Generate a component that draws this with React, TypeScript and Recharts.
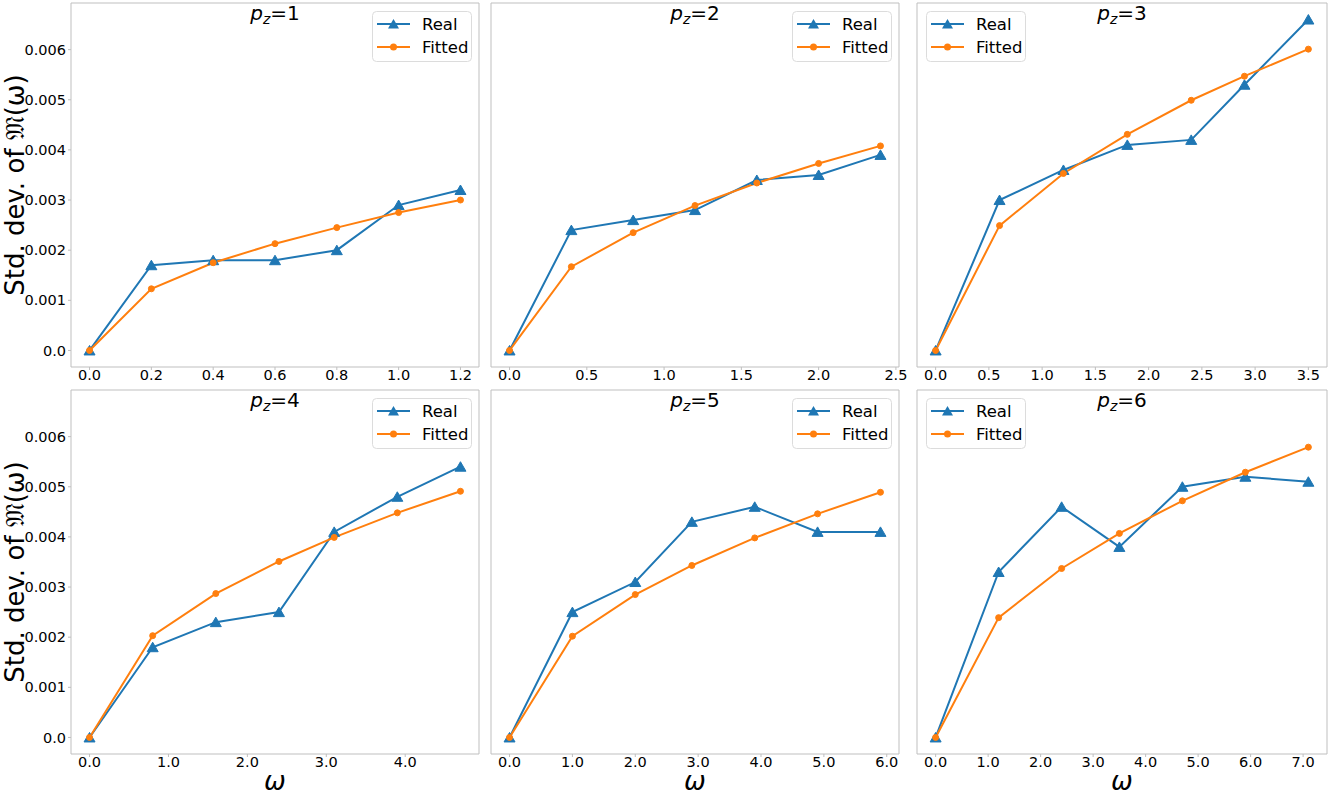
import React from 'react';
import { LineChart, Line, XAxis, YAxis, ReferenceArea, Legend } from 'recharts';

// omega values, real and fitted std. dev. for each p_z panel
const omega1 = [0, 0.2, 0.4, 0.6, 0.8, 1.0, 1.2];
const real1 = [0, 0.0017, 0.0018, 0.0018, 0.002, 0.0029, 0.0032];
const fitted1 = [0, 0.00123, 0.00175, 0.00213, 0.00245, 0.00275, 0.003];
const xTicks1 = [0, 0.2, 0.4, 0.6, 0.8, 1.0, 1.2];

const omega2 = [0, 0.4, 0.8, 1.2, 1.6, 2.0, 2.4];
const real2 = [0, 0.0024, 0.0026, 0.0028, 0.0034, 0.0035, 0.0039];
const fitted2 = [0, 0.00167, 0.00235, 0.00289, 0.00334, 0.00373, 0.00408];
const xTicks2 = [0, 0.5, 1.0, 1.5, 2.0, 2.5];

const omega3 = [0, 0.6, 1.2, 1.8, 2.4, 2.9, 3.5];
const real3 = [0, 0.003, 0.0036, 0.0041, 0.0042, 0.0053, 0.0066];
const fitted3 = [0, 0.00249, 0.00353, 0.00431, 0.00499, 0.00547, 0.00601];
const xTicks3 = [0, 0.5, 1.0, 1.5, 2.0, 2.5, 3.0, 3.5];

const omega4 = [0, 0.8, 1.6, 2.4, 3.1, 3.9, 4.7];
const real4 = [0, 0.0018, 0.0023, 0.0025, 0.0041, 0.0048, 0.0054];
const fitted4 = [0, 0.00203, 0.00287, 0.00351, 0.00399, 0.00448, 0.00491];
const xTicks4 = [0, 1, 2, 3, 4];

const omega5 = [0, 1.0, 2.0, 2.9, 3.9, 4.9, 5.9];
const real5 = [0, 0.0025, 0.0031, 0.0043, 0.0046, 0.0041, 0.0041];
const fitted5 = [0, 0.00202, 0.00285, 0.00343, 0.00398, 0.00446, 0.00489];
const xTicks5 = [0, 1, 2, 3, 4, 5, 6];

const omega6 = [0, 1.2, 2.4, 3.5, 4.7, 5.9, 7.1];
const real6 = [0, 0.0033, 0.0046, 0.0038, 0.005, 0.0052, 0.0051];
const fitted6 = [0, 0.00239, 0.00337, 0.00407, 0.00472, 0.00529, 0.00579];
const xTicks6 = [0, 1, 2, 3, 4, 5, 6, 7];

const yTicks = [0, 0.001, 0.002, 0.003, 0.004, 0.005, 0.006];
const yMax = 0.0066;

const seriesNames = ['Real', 'Fitted'];

const panels = [
  { pz: 1, omega: omega1, real: real1, fitted: fitted1, ticks: xTicks1 },
  { pz: 2, omega: omega2, real: real2, fitted: fitted2, ticks: xTicks2 },
  { pz: 3, omega: omega3, real: real3, fitted: fitted3, ticks: xTicks3 },
  { pz: 4, omega: omega4, real: real4, fitted: fitted4, ticks: xTicks4 },
  { pz: 5, omega: omega5, real: real5, fitted: fitted5, ticks: xTicks5 },
  { pz: 6, omega: omega6, real: real6, fitted: fitted6, ticks: xTicks6 },
];

const BLUE = '#1f77b4';
const ORANGE = '#ff7f0e';
const SPINE = '#bfbfbf';
const FONT = "'DejaVu Sans', sans-serif";
const TICK_FS = 14.5;

// layout of the 2x3 grid
const cols = [
  { plotLeft: 71, plotW: 408, yw: 71, mr: 8, legendRight: true },
  { plotLeft: 491, plotW: 408, yw: 10, mr: 8, legendRight: true },
  { plotLeft: 917, plotW: 410, yw: 10, mr: 2, legendRight: false },
];
const rows = [
  { plotTop: 3, xh: 20, showX: false },
  { plotTop: 390, xh: 43, showX: true },
];
const PLOT_H = 364;

// matplotlib style 5% margins
const padDomain = (lo: number, hi: number): [number, number] => {
  const m = (hi - lo) * 0.05;
  return [lo - m, hi + m];
};
const yDomain = padDomain(0, yMax);

const renderTriangle = (p: any) => {
  const { cx, cy, index } = p;
  if (cx == null || cy == null) return <g key={`tri-${index}`} />;
  return (
    <path
      key={`tri-${index}`}
      d={`M${cx},${cy - 5}L${cx + 5.5},${cy + 4.5}L${cx - 5.5},${cy + 4.5}Z`}
      fill={BLUE}
      stroke={BLUE}
      strokeWidth={1}
    />
  );
};

const LegendBox = () => (
  <svg width={100} height={51} style={{ display: 'block' }}>
    <rect x={0.5} y={0.5} width={99} height={50} rx={4} fill="rgba(255,255,255,0.8)" stroke="#dcdcdc" />
    {seriesNames.map((name, i) => {
      const cy = 13 + i * 23;
      return (
        <g key={name}>
          <line x1={5} x2={38} y1={cy} y2={cy} stroke={i === 0 ? BLUE : ORANGE} strokeWidth={2} />
          {i === 0 ? (
            <path d={`M21.5,${cy - 5}L27,${cy + 4.5}L16,${cy + 4.5}Z`} fill={BLUE} />
          ) : (
            <circle cx={21.5} cy={cy} r={3.5} fill={ORANGE} />
          )}
          <text x={50} y={cy + 6} fontSize={16.5} fontFamily={FONT} fill="#000">
            {name}
          </text>
        </g>
      );
    })}
  </svg>
);

const Panel = ({ idx }: { idx: number }) => {
  const panel = panels[idx];
  const col = cols[idx % 3];
  const row = rows[Math.floor(idx / 3)];
  const data = panel.omega.map((x, i) => ({ x, real: panel.real[i], fitted: panel.fitted[i] }));
  const xDomain = padDomain(0, panel.omega[panel.omega.length - 1]);
  const width = col.yw + col.plotW + col.mr;
  const height = 3 + PLOT_H + row.xh;
  const left = col.plotLeft - col.yw;
  const top = row.plotTop - 3;
  const legendLeft = col.legendRight ? col.yw + col.plotW - 107 : col.yw + 9;

  const renderTitle = (p: any) => {
    const vb = p && p.viewBox ? p.viewBox : { x: col.yw, y: 3, width: col.plotW };
    return (
      <text x={vb.x + vb.width / 2} y={vb.y + 17} textAnchor="middle" fontSize={20} fontFamily={FONT} fill="#000">
        <tspan fontStyle="italic">p</tspan>
        <tspan fontStyle="italic" fontSize={14} dy={4}>z</tspan>
        <tspan dy={-4}>={panel.pz}</tspan>
      </text>
    );
  };

  const renderYLabel = (p: any) => {
    const vb = p && p.viewBox ? p.viewBox : { y: 3, height: PLOT_H };
    const x = 24;
    const y = vb.y + vb.height / 2;
    return (
      <text x={x} y={y} transform={`rotate(-90, ${x}, ${y})`} textAnchor="middle" fontSize={26} fontFamily="'DejaVu Sans', 'DejaVu Serif', serif" fill="#000">
        Std. dev. of 𝔐(ω)
      </text>
    );
  };

  return (
    <div style={{ position: 'absolute', left, top, width, height }}>
      <LineChart width={width} height={height} data={data} margin={{ top: 3, right: col.mr, left: 0, bottom: 0 }}>
        <XAxis
          dataKey="x"
          type="number"
          domain={xDomain}
          ticks={panel.ticks}
          allowDataOverflow
          axisLine={false}
          tickLine={{ stroke: SPINE }}
          tickSize={3}
          tickMargin={0}
          height={row.xh}
          tickFormatter={(v: number) => v.toFixed(1)}
          tick={{ fill: '#000', fontSize: TICK_FS, fontFamily: FONT }}
          label={row.showX ? { value: 'ω', position: 'insideBottom', offset: 7, fontSize: 26, fontStyle: 'italic', fill: '#000', fontFamily: FONT } : undefined}
        />
        <YAxis
          type="number"
          domain={yDomain}
          ticks={yTicks}
          allowDataOverflow
          width={col.yw}
          axisLine={false}
          tickLine={{ stroke: SPINE }}
          tickSize={3}
          tickMargin={2}
          tick={idx % 3 === 0 ? { fill: '#000', fontSize: TICK_FS, fontFamily: FONT } : false}
          tickFormatter={(v: number) => (v === 0 ? '0.0' : v.toFixed(3))}
          label={idx % 3 === 0 ? renderYLabel : undefined}
        />
        <ReferenceArea
          x1={xDomain[0]}
          x2={xDomain[1]}
          y1={yDomain[0]}
          y2={yDomain[1]}
          fill="none"
          fillOpacity={0}
          stroke={SPINE}
          strokeWidth={1}
          ifOverflow="visible"
          label={renderTitle}
        />
        <Line
          type="linear"
          dataKey="real"
          name="Real"
          stroke={BLUE}
          strokeWidth={2}
          dot={renderTriangle}
          activeDot={false}
          isAnimationActive={false}
        />
        <Line
          type="linear"
          dataKey="fitted"
          name="Fitted"
          stroke={ORANGE}
          strokeWidth={2}
          dot={{ r: 3, fill: ORANGE, stroke: ORANGE, strokeWidth: 1 }}
          activeDot={false}
          isAnimationActive={false}
        />
        <Legend
          layout="vertical"
          align="center"
          verticalAlign="middle"
          content={() => <LegendBox />}
          wrapperStyle={{ left: legendLeft, top: 3 + 8, width: 100, height: 51 }}
        />
      </LineChart>
    </div>
  );
};

export default function App() {
  return (
    <div style={{ position: 'absolute', left: 0, top: 0, width: 1329, height: 797, background: '#fff', overflow: 'hidden', fontFamily: FONT }}>
      {panels.map((p, i) => (
        <Panel key={p.pz} idx={i} />
      ))}
    </div>
  );
}
